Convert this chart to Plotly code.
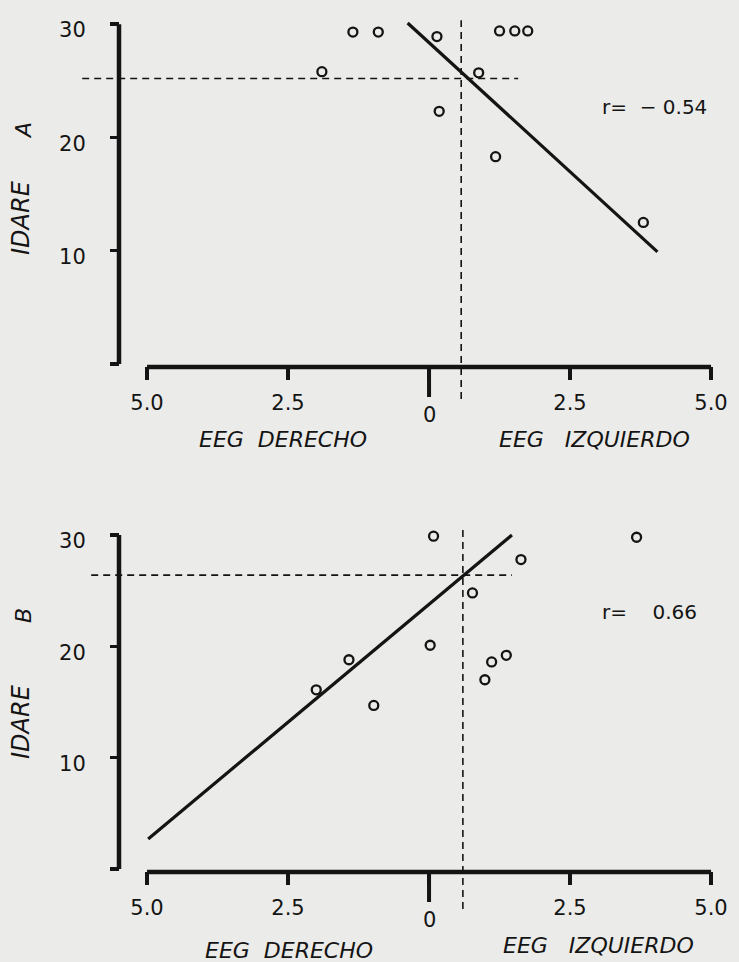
import plotly.graph_objects as go

W, H = 739, 962
INK = "#141414"
BG = "#ebebe9"
FONT = "DejaVu Sans"

# ---------------- data ----------------
# Panel A  (x: EEG asymmetry, negative = derecho, positive = izquierdo)
a_x = [-1.35, -0.90, 0.14, 1.25, 1.52, 1.75, -1.90, 0.88, 0.18, 1.18, 3.80]
a_y = [29.3, 29.3, 28.9, 29.4, 29.4, 29.4, 25.8, 25.7, 22.3, 18.3, 12.5]
a_fit_x = [-0.38, 4.05]
a_fit_y = [30.1, 9.9]
a_mean_x = 0.57
a_mean_y = 25.2
a_hline_x = [-6.15, 1.58]
a_vline_y = [-3.1, 30.35]
a_r = "r=  \u2212 0.54"

# Panel B
b_x = [0.08, 3.68, 1.63, 0.77, 0.02, 1.37, 1.11, 0.99, -1.42, -2.00, -0.98]
b_y = [29.9, 29.8, 27.8, 24.8, 20.1, 19.2, 18.6, 17.0, 18.8, 16.1, 14.7]
b_fit_x = [-4.98, 1.47]
b_fit_y = [2.7, 30.0]
b_mean_x = 0.60
b_mean_y = 26.4
b_hline_x = [-5.99, 1.47]
b_vline_y = [-3.6, 30.6]
b_r = "r=    0.66"

x_tickvals = [-5, -2.5, 0, 2.5, 5]
x_ticktext = ["5.0", "2.5", "", "2.5", "5.0"]
y_tickvals = [0, 10, 20, 30]
y_ticktext = ["", "10", "20", "30"]

# ---------------- layout geometry (pixels) ----------------
X_RANGE = [-6.6, 5.4]
X_PX = [56.8, 733.6]
A_YRANGE = [-4.0, 31.0]
A_PX = [409.3, 12.8]       # bottom, top
B_YRANGE = [-4.2, 31.0]
B_PX = [915.8, 523.9]
YAXIS_PX = 119.0
A_XAXIS_PX = 366.0
B_XAXIS_PX = 871.0


def fx(px):
    return px / W


def fy(py):
    return 1 - py / H


def data_x_at(px):
    return X_RANGE[0] + (px - X_PX[0]) / (X_PX[1] - X_PX[0]) * (X_RANGE[1] - X_RANGE[0])


yaxis_x = data_x_at(YAXIS_PX)

fig = go.Figure()

panels = [
    ("x", "y", a_x, a_y, a_fit_x, a_fit_y, a_mean_x, a_mean_y, a_hline_x, a_vline_y),
    ("x2", "y2", b_x, b_y, b_fit_x, b_fit_y, b_mean_x, b_mean_y, b_hline_x, b_vline_y),
]

dash = "7px,5px"
for xa, ya, px_, py_, fxx, fyy, mx, my, hx, vy in panels:
    # reference dashed lines
    fig.add_trace(go.Scatter(x=hx, y=[my, my], xaxis=xa, yaxis=ya, mode="lines",
                             line=dict(color=INK, width=1.6, dash=dash),
                             hoverinfo="skip", showlegend=False))
    fig.add_trace(go.Scatter(x=[mx, mx], y=vy, xaxis=xa, yaxis=ya, mode="lines",
                             line=dict(color=INK, width=1.6, dash=dash),
                             hoverinfo="skip", showlegend=False))
    # regression line
    fig.add_trace(go.Scatter(x=fxx, y=fyy, xaxis=xa, yaxis=ya, mode="lines",
                             line=dict(color=INK, width=3.2),
                             showlegend=False))
    # points
    fig.add_trace(go.Scatter(x=px_, y=py_, xaxis=xa, yaxis=ya, mode="markers",
                             marker=dict(symbol="circle-open", size=9,
                                         color=INK, line=dict(width=2.3, color=INK)),
                             cliponaxis=False, showlegend=False))

shapes = []
for xr, yr in [("x", "y"), ("x2", "y2")]:
    # y-axis line (0..30)
    shapes.append(dict(type="line", xref=xr, yref=yr, x0=yaxis_x, x1=yaxis_x,
                       y0=0, y1=30, line=dict(color=INK, width=4.5)))
    # x-axis line (-5..5), a few px below y=0
    shapes.append(dict(type="line", xref=xr, yref=yr, x0=-5, x1=5,
                       ysizemode="pixel", yanchor=0, y0=-3, y1=-3,
                       line=dict(color=INK, width=4.5)))
    # long tick at zero
    shapes.append(dict(type="line", xref=xr, yref=yr, x0=0, x1=0,
                       ysizemode="pixel", yanchor=0, y0=-3, y1=-33,
                       line=dict(color=INK, width=4)))
fig.update_layout(shapes=shapes)

xaxis_common = dict(range=X_RANGE, domain=[fx(X_PX[0]), fx(X_PX[1])],
                    showgrid=False, zeroline=False, showline=False,
                    tickmode="array", tickvals=x_tickvals, ticktext=x_ticktext,
                    ticks="outside", ticklen=13, tickwidth=4, tickcolor=INK,
                    tickfont=dict(family=FONT, size=21, color=INK),
                    ticklabelstandoff=5, anchor="free", fixedrange=True)
yaxis_common = dict(showgrid=False, zeroline=False, showline=False,
                    tickmode="array", tickvals=y_tickvals, ticktext=y_ticktext,
                    ticks="outside", ticklen=9, tickwidth=3.5, tickcolor=INK,
                    tickfont=dict(family=FONT, size=21, color=INK),
                    ticklabelstandoff=20, ticklabelshift=6,
                    anchor="free", position=fx(YAXIS_PX), fixedrange=True)

fig.update_layout(
    xaxis=dict(**xaxis_common, position=fy(A_XAXIS_PX)),
    xaxis2=dict(**xaxis_common, position=fy(B_XAXIS_PX)),
    yaxis=dict(**yaxis_common, range=A_YRANGE, domain=[fy(A_PX[0]), fy(A_PX[1])]),
    yaxis2=dict(**yaxis_common, range=B_YRANGE, domain=[fy(B_PX[0]), fy(B_PX[1])]),
)

NB = "\u00a0"
tf = dict(family=FONT, size=21, color=INK)
itf = dict(family=FONT, size=22, color=INK, style="italic")
lbl_left = "EEG" + NB * 2 + "DERECHO"
lbl_right = "EEG" + NB * 3 + "IZQUIERDO"
annotations = []
for xr, yr, yshift_l, yshift_r, dx_l, dx_r in [("x", "y", -76, -76, -2.59, 2.93),
                                             ("x2", "y2", -81, -76, -2.48, 3.0)]:
    annotations.append(dict(xref=xr, yref=yr, x=0, y=0, yshift=-51, text="0",
                            showarrow=False, font=tf, xanchor="center", yanchor="middle"))
    annotations.append(dict(xref=xr, yref=yr, x=dx_l, y=0, yshift=yshift_l,
                            text=lbl_left, showarrow=False, font=itf,
                            xanchor="center", yanchor="middle"))
    annotations.append(dict(xref=xr, yref=yr, x=dx_r, y=0, yshift=yshift_r,
                            text=lbl_right, showarrow=False, font=itf,
                            xanchor="center", yanchor="middle"))

annotations.append(dict(xref="x", yref="y", x=4.0, y=22.7, text=a_r.replace(" ", NB),
                        showarrow=False, font=dict(family=FONT, size=20, color=INK),
                        xanchor="center", yanchor="middle"))
annotations.append(dict(xref="x2", yref="y2", x=3.9, y=23.1, text=b_r.replace(" ", NB),
                        showarrow=False, font=dict(family=FONT, size=20, color=INK),
                        xanchor="center", yanchor="middle"))

# y-axis titles (rotated)
for label, ycen, letter, lcen in [("IDARE", 218, "A", 131), ("IDARE", 722, "B", 616)]:
    annotations.append(dict(xref="paper", yref="paper", x=fx(21), y=fy(ycen),
                            text=label, textangle=-90, showarrow=False,
                            xanchor="center", yanchor="middle",
                            font=dict(family=FONT, size=24, color=INK, style="italic")))
    annotations.append(dict(xref="paper", yref="paper", x=fx(23), y=fy(lcen),
                            text=letter, textangle=-90, showarrow=False,
                            xanchor="center", yanchor="middle",
                            font=dict(family=FONT, size=22, color=INK, style="italic")))

fig.update_layout(
    annotations=annotations,
    width=W, height=H,
    margin=dict(l=0, r=0, t=0, b=0),
    paper_bgcolor=BG, plot_bgcolor=BG,
    showlegend=False,
)

fig.write_html(
    "out.html",
    config={"displayModeBar": False, "staticPlot": True},
    post_script="document.body.style.margin='0';document.body.style.padding='0';"
                "document.documentElement.style.overflow='hidden';",
)
